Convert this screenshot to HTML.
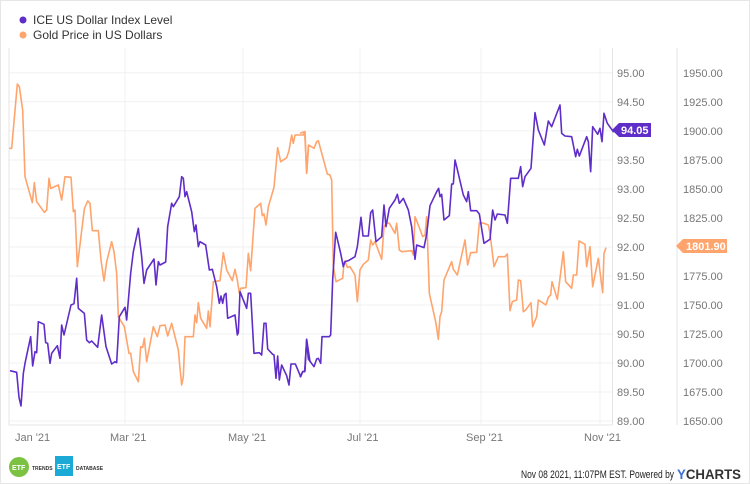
<!DOCTYPE html>
<html><head><meta charset="utf-8"><style>
body{margin:0;background:#fff;font-family:"Liberation Sans",sans-serif;}
svg{display:block}
</style></head><body>
<svg width="750" height="484" viewBox="0 0 750 484" font-family="Liberation Sans, sans-serif">
<rect x="0.5" y="0.5" width="749" height="483" fill="#fff" stroke="#e6e6e6"/>
<circle cx="23" cy="20" r="3.5" fill="#5f2dc8"/>
<text x="33" y="24" font-size="12" fill="#333">ICE US Dollar Index Level</text>
<circle cx="23" cy="35" r="3.5" fill="#ffa46c"/>
<text x="33" y="39" font-size="12" fill="#333">Gold Price in US Dollars</text>
<g stroke="#f0f0f0" stroke-width="1">
<line x1="9" y1="72.7" x2="612" y2="72.7"/><line x1="9" y1="101.8" x2="612" y2="101.8"/><line x1="9" y1="130.9" x2="612" y2="130.9"/><line x1="9" y1="160" x2="612" y2="160"/><line x1="9" y1="189" x2="612" y2="189"/><line x1="9" y1="218" x2="612" y2="218"/><line x1="9" y1="247" x2="612" y2="247"/><line x1="9" y1="276" x2="612" y2="276"/><line x1="9" y1="305" x2="612" y2="305"/><line x1="9" y1="334" x2="612" y2="334"/><line x1="9" y1="363" x2="612" y2="363"/><line x1="9" y1="392" x2="612" y2="392"/><line x1="9" y1="421" x2="612" y2="421"/>
<line x1="125" y1="48" x2="125" y2="425"/><line x1="243" y1="48" x2="243" y2="425"/><line x1="360" y1="48" x2="360" y2="425"/><line x1="481" y1="48" x2="481" y2="425"/><line x1="600" y1="48" x2="600" y2="425"/>
</g>
<g stroke="#e4e4e4"><line x1="9" y1="48" x2="9" y2="425"/><line x1="9" y1="425" x2="612" y2="425"/><line x1="612.5" y1="48" x2="612.5" y2="425"/><line x1="677" y1="48" x2="677" y2="425"/></g>
<g font-size="11" fill="#777">
<text x="617" y="77">95.00</text><text x="617" y="106">94.50</text><text x="617" y="135">94.00</text><text x="617" y="164">93.50</text><text x="617" y="193">93.00</text><text x="617" y="222">92.50</text><text x="617" y="251">92.00</text><text x="617" y="280">91.50</text><text x="617" y="309">91.00</text><text x="617" y="338">90.50</text><text x="617" y="367">90.00</text><text x="617" y="396">89.50</text><text x="617" y="425">89.00</text>
<text x="683" y="77">1950.00</text><text x="683" y="106">1925.00</text><text x="683" y="135">1900.00</text><text x="683" y="164">1875.00</text><text x="683" y="193">1850.00</text><text x="683" y="222">1825.00</text><text x="683" y="251">1800.00</text><text x="683" y="280">1775.00</text><text x="683" y="309">1750.00</text><text x="683" y="338">1725.00</text><text x="683" y="367">1700.00</text><text x="683" y="396">1675.00</text><text x="683" y="425">1650.00</text>
<text x="15" y="441">Jan '21</text><text x="110" y="441">Mar '21</text><text x="228" y="441">May '21</text><text x="347" y="441">Jul '21</text><text x="466" y="441">Sep '21</text><text x="584" y="441">Nov '21</text>
</g>
<g fill="none" stroke-width="1.6" stroke-linejoin="round">
<g transform="translate(0,60) scale(0.33333)">
<polyline vector-effect="non-scaling-stroke" stroke="#ffa46c" points="28,265 35,265 52,72 58,80 68,150 75,350 97,428 103,368 110,425 133,457 140,450 147,355 152,385 175,375 185,420 195,350 213,352 220,455 225,450 232,620 253,447 263,423 270,430 277,512 295,512 303,600 312,663 320,605 335,545 342,575 350,640 355,770 373,800 387,880 392,880 400,935 415,965 422,860 428,862 433,835 440,905 460,800 472,830 480,797 495,795 503,828 515,790 535,870 540,925 545,975 550,950 555,830 580,830 585,765 590,788 595,728 602,775 620,805 625,753 630,800 640,665 660,662 670,578 680,630 697,662 705,628 712,660 718,700 722,685 738,683 745,580 752,632 765,445 782,430 787,467 792,462 798,495 805,440 822,382 833,263 842,305 860,293 867,272 875,225 880,250 885,225 910,225 915,215 920,340 925,258 930,258"/>
<polyline vector-effect="non-scaling-stroke" stroke="#5f2dc8" points="30,932 50,937 57,1012 63,1038 70,940 75,910 92,830 98,918 105,875 110,878 115,785 132,793 137,848 143,850 150,910 155,880 172,857 180,895 185,795 192,825 213,735 222,731 230,655 235,745 253,760 260,840 268,848 275,843 293,862 305,765 318,860 335,912 345,905 350,908 358,770 375,742 380,780 392,640 400,575 415,505 425,590 432,670 440,630 462,597 468,675 475,605 480,615 497,606 503,500 515,430 520,440 538,410 545,350 550,355 555,410 560,395 575,455 583,515 588,495 595,560 600,545 617,555 628,630 637,628 650,680 658,730 663,708 668,730 673,705 678,700 683,775 705,765 712,825 715,818 720,695 740,745 745,700 752,700 762,880 778,878 785,885 792,790 798,790 803,867 818,883 822,885 828,955 833,888 838,960 845,915 860,947 867,975 873,912 886,912 902,950 908,935 914,935 920,838 930,905"/>
</g>
<g transform="translate(300,60) scale(0.33333)">
<polyline vector-effect="non-scaling-stroke" stroke="#ffa46c" points="0,220 14,215 20,340 26,255 42,265 50,245 55,242 68,290 82,342 90,345 95,360 100,620 108,665 128,655 132,608 135,603 142,622 150,620 165,645 172,725 180,630 190,613 205,600 212,540 218,555 225,545 245,598 252,500 260,488 268,490 285,520 290,490 298,570 305,575 335,572 340,585 345,470 355,495 368,530 375,525 380,470 388,700 408,790 415,838 420,770 425,755 432,660 455,605 460,628 472,645 495,540 503,615 512,578 530,577 538,488 552,490 565,495 570,520 582,620 595,590 615,590 622,582 630,752 637,725 650,720 655,660 662,662 670,755 677,750 693,728 698,800 705,782 710,770 715,720 738,735 745,712 752,705 756,665 772,718 790,575 797,665 815,685 820,645 830,645 837,543 855,553 860,620 870,560 878,680 895,595 908,698 912,580 918,563"/>
<polyline vector-effect="non-scaling-stroke" stroke="#5f2dc8" points="0,952 8,935 15,933 20,838 25,897 42,920 50,897 55,895 62,910 66,830 88,830 92,825 98,660 107,517 115,550 122,580 130,620 135,605 145,602 165,590 172,560 183,472 189,528 205,528 212,458 218,450 228,545 245,530 252,435 258,500 268,445 285,420 292,403 298,430 310,415 325,450 335,500 345,598 350,555 372,563 380,522 390,437 410,395 416,385 420,410 425,403 432,480 448,467 455,372 460,372 465,300 470,320 490,405 500,425 505,395 512,452 530,452 538,462 552,550 570,538 578,450 585,480 592,462 615,465 622,490 632,355 655,355 662,320 668,380 675,350 693,325 705,158 715,210 733,255 745,183 755,200 780,135 785,220 795,228 815,230 827,290 832,268 838,288 860,230 865,245 872,335 878,200 893,223 900,205 906,245 912,160 922,190 940,215 945,210"/>
</g>
</g>
<polygon points="612,130 619,123 651,123 651,137 619,137" fill="#5f2dc8"/>
<text x="621" y="134" font-size="11" font-weight="bold" fill="#fff">94.05</text>
<polygon points="676,246 683,239 727,239 727,253 683,253" fill="#ffa46c"/>
<text x="686" y="250" font-size="11" font-weight="bold" fill="#fff">1801.90</text>
<circle cx="19" cy="467" r="10" fill="#7cc242"/>
<text x="12" y="470" font-size="7" font-weight="bold" fill="#fff">ETF</text>
<text x="32" y="470" font-size="5" font-weight="bold" fill="#333">TRENDS</text>
<rect x="55" y="456" width="18" height="20" fill="#1ba9d6"/>
<text x="57" y="469" font-size="7" font-weight="bold" fill="#fff">ETF</text>
<text x="76" y="470" font-size="5" font-weight="bold" fill="#333">DATABASE</text>
<text x="521" y="478" font-size="11" fill="#222" textLength="153" lengthAdjust="spacingAndGlyphs">Nov 08 2021, 11:07PM EST. Powered by</text>
<text x="677" y="479" font-size="14" font-weight="bold" fill="#333" textLength="64" lengthAdjust="spacingAndGlyphs"><tspan fill="#3d6fd6">Y</tspan>CHARTS</text>
</svg>
</body></html>
